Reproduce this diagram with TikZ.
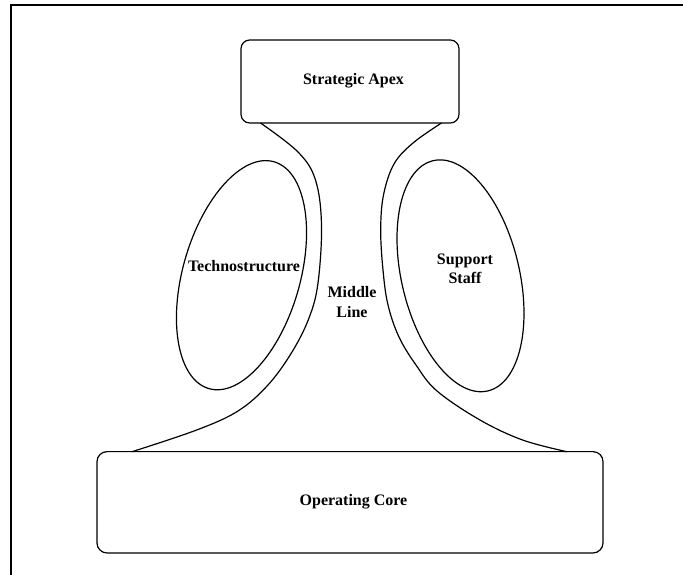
\documentclass[tikz,border=0pt]{standalone}
\usepackage{fontspec}
\setmainfont{Liberation Serif}
\usetikzlibrary{shapes.geometric}
\begin{document}
\begin{tikzpicture}[x=0.75pt,y=-0.75pt,
  lbl/.style={font=\fontsize{12}{14.5}\selectfont\bfseries, align=center, inner sep=0pt},
  rbox/.style={draw, line width=0.9pt, rounded corners=#1, inner sep=0pt},
  oval/.style={draw, ellipse, line width=0.9pt, inner sep=0pt},
  outline/.style={line width=0.9pt, smooth, tension=0.6}]
\useasboundingbox (0,0) rectangle (683,575);
% frame
\draw[line width=1.3pt] (683,5.3) -- (11.3,5.3) -- (11.3,575);
% boxes
\node[rbox=6.5pt, minimum width=163.5pt, minimum height=62.25pt] (apex) at (350,81.5) {};
\node[lbl] (apexT) at (353.5,81) {Strategic Apex};
\node[rbox=7.5pt, minimum width=379.5pt, minimum height=76pt] (core) at (350,502.3) {};
\node[lbl] (coreT) at (353.5,502) {Operating Core};
% ellipses
\node[oval, minimum width=87.9pt, minimum height=177pt, rotate=-16] (tech) at (241.5,275.2) {};
\node[oval, minimum width=88.3pt, minimum height=177.5pt, rotate=13.4] (supp) at (460.5,275.8) {};
\node[lbl] (techT) at (244,266) {Technostructure};
\node[lbl] (suppT) at (465,269) {Support\\Staff};
\node[lbl] (midT) at (352,302) {Middle\\Line};
% middle line outline
\coordinate (l0) at (260.5,123);
\coordinate (l1) at (132,451.7);
\coordinate (r0) at (441.5,123);
\coordinate (r1) at (567,451.7);
\draw[outline] plot coordinates {(l0) (298,152) (315.5,180) (321.5,225) (318,283) (309,318) (292,352) (268,385) (238,411) (196.7,430) (l1)};
\draw[outline] plot coordinates {(r0) (413,143) (394,164) (383.5,195) (380.7,230) (383,270) (388,305) (399,337) (416,365) (437,391) (480,420) (522.6,440) (r1)};
\end{tikzpicture}
\end{document}
